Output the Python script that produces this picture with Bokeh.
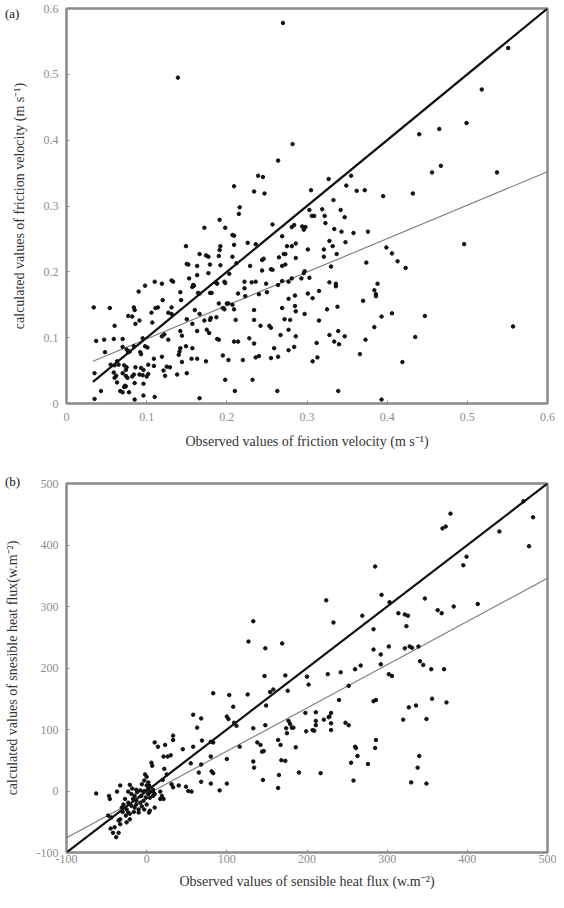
from bokeh.plotting import figure
from bokeh.layouts import column
from bokeh.models import Range1d, FixedTicker, Div
from bokeh.embed import file_html
from bokeh.resources import INLINE

# ---------------- data: panel (a) friction velocity ----------------
ua_pts = [
    (0.270,0.578),(0.139,0.495),(0.282,0.394),(0.264,0.369),(0.239,0.346),(0.245,0.344),(0.209,0.330),(0.234,0.322),(0.247,0.319),
    (0.551,0.540),(0.518,0.477),(0.499,0.426),(0.465,0.417),(0.440,0.409),(0.467,0.361),(0.456,0.351),(0.537,0.351),(0.327,0.341),
    (0.355,0.346),(0.349,0.331),(0.305,0.324),(0.362,0.323),(0.372,0.324),(0.395,0.315),(0.432,0.319),(0.333,0.309),
    (0.303,0.294),(0.319,0.295),(0.342,0.294),(0.306,0.285),(0.309,0.285),(0.322,0.285),(0.347,0.283),(0.323,0.274),(0.284,0.271),
    (0.294,0.269),(0.298,0.268),(0.296,0.264),(0.334,0.265),(0.343,0.261),(0.358,0.259),(0.376,0.261),(0.328,0.247),(0.348,0.245),
    (0.286,0.243),(0.332,0.239),(0.399,0.237),(0.496,0.242),(0.301,0.234),(0.321,0.234),(0.337,0.227),(0.406,0.228),(0.286,0.221),
    (0.321,0.223),(0.413,0.216),(0.374,0.214),(0.423,0.206),(0.330,0.208),(0.297,0.201),(0.296,0.198),(0.281,0.190),(0.293,0.190),
    (0.303,0.191),(0.328,0.184),(0.336,0.182),(0.336,0.178),(0.388,0.182),(0.384,0.172),(0.386,0.166),(0.386,0.163),(0.315,0.171),
    (0.285,0.164),(0.301,0.167),(0.307,0.160),(0.370,0.156),(0.338,0.147),(0.325,0.143),(0.286,0.140),(0.297,0.136),(0.406,0.137),
    (0.393,0.132),(0.447,0.133),(0.315,0.126),(0.384,0.116),(0.557,0.117),(0.328,0.104),(0.339,0.110),(0.347,0.102),(0.286,0.102),
    (0.435,0.101),(0.373,0.097),(0.334,0.094),(0.340,0.090),(0.312,0.092),(0.284,0.086),(0.366,0.075),(0.313,0.070),(0.307,0.064),
    (0.419,0.063),(0.339,0.019),(0.393,0.006),
    (0.216,0.298),(0.215,0.288),(0.191,0.279),(0.172,0.267),(0.198,0.267),(0.207,0.256),(0.209,0.255),(0.257,0.272),(0.281,0.268),
    (0.149,0.239),(0.192,0.239),(0.191,0.233),(0.209,0.241),(0.226,0.244),(0.236,0.242),(0.269,0.254),(0.275,0.239),(0.281,0.239),
    (0.166,0.227),(0.174,0.225),(0.177,0.223),(0.190,0.224),(0.207,0.223),(0.244,0.218),(0.246,0.220),(0.265,0.222),(0.271,0.227),
    (0.273,0.227),(0.150,0.212),(0.152,0.211),(0.163,0.209),(0.179,0.211),(0.192,0.210),(0.212,0.213),(0.229,0.209),(0.244,0.202),
    (0.255,0.204),(0.257,0.203),(0.269,0.209),(0.273,0.211),(0.163,0.195),(0.177,0.198),(0.203,0.197),(0.110,0.185),(0.119,0.182),
    (0.131,0.187),(0.133,0.185),(0.153,0.190),(0.158,0.180),(0.159,0.179),(0.157,0.177),(0.186,0.184),(0.188,0.182),(0.197,0.185),
    (0.198,0.183),(0.222,0.185),(0.222,0.175),(0.231,0.184),(0.236,0.185),(0.249,0.182),(0.264,0.180),(0.269,0.186),(0.277,0.185),
    (0.098,0.179),(0.090,0.170),(0.142,0.169),(0.164,0.168),(0.166,0.167),(0.179,0.168),(0.181,0.168),(0.214,0.167),(0.240,0.166),
    (0.277,0.159),(0.250,0.169),(0.143,0.157),(0.120,0.157),(0.223,0.163),(0.034,0.146),(0.054,0.145),(0.084,0.146),(0.085,0.142),
    (0.111,0.145),(0.114,0.146),(0.131,0.146),(0.190,0.152),(0.200,0.152),(0.202,0.152),(0.207,0.150),(0.209,0.143),(0.195,0.145),
    (0.197,0.143),(0.234,0.142),(0.269,0.145),(0.285,0.148),(0.106,0.138),(0.127,0.138),(0.131,0.136),(0.160,0.142),(0.166,0.136),
    (0.180,0.130),(0.187,0.131),(0.077,0.133),(0.082,0.132),(0.091,0.126),(0.086,0.121),(0.150,0.128),(0.172,0.126),(0.179,0.127),
    (0.211,0.127),(0.272,0.128),(0.279,0.127),(0.060,0.118),(0.107,0.123),(0.157,0.121),(0.234,0.127),(0.242,0.118),(0.253,0.118),
    (0.255,0.115),(0.163,0.110),(0.175,0.112),(0.178,0.107),(0.188,0.098),(0.190,0.097),(0.142,0.110),(0.144,0.103),(0.122,0.105),
    (0.119,0.102),(0.127,0.097),(0.209,0.094),(0.214,0.094),(0.228,0.099),(0.234,0.091),(0.267,0.104),(0.277,0.112),(0.037,0.095),
    (0.047,0.097),(0.059,0.098),(0.070,0.098),(0.095,0.099),(0.084,0.087),(0.098,0.087),(0.101,0.085),(0.070,0.086),(0.075,0.082),
    (0.077,0.078),(0.079,0.079),(0.092,0.078),(0.093,0.075),(0.048,0.078),(0.149,0.087),(0.142,0.084),(0.141,0.079),(0.140,0.074),
    (0.157,0.084),(0.259,0.084),(0.277,0.081),(0.236,0.070),(0.240,0.072),(0.255,0.069),(0.264,0.071),(0.109,0.068),(0.119,0.071),
    (0.156,0.068),(0.163,0.068),(0.174,0.064),(0.195,0.073),(0.202,0.066),(0.220,0.066),(0.063,0.064),(0.055,0.059),(0.060,0.058),
    (0.065,0.059),(0.072,0.058),(0.075,0.055),(0.074,0.051),(0.086,0.055),(0.093,0.054),(0.096,0.051),(0.102,0.059),(0.109,0.057),
    (0.125,0.056),(0.129,0.055),(0.144,0.063),(0.150,0.046),(0.121,0.050),(0.123,0.042),(0.138,0.044),(0.035,0.046),(0.059,0.047),
    (0.062,0.042),(0.060,0.039),(0.070,0.046),(0.074,0.042),(0.076,0.039),(0.082,0.041),(0.084,0.044),(0.091,0.044),(0.095,0.043),
    (0.100,0.041),(0.102,0.045),(0.063,0.032),(0.073,0.027),(0.072,0.025),(0.074,0.026),(0.085,0.031),(0.096,0.030),(0.198,0.036),
    (0.232,0.036),(0.043,0.019),(0.067,0.019),(0.070,0.017),(0.078,0.017),(0.096,0.012),(0.110,0.010),(0.085,0.006),(0.035,0.007),
    (0.166,0.008),(0.210,0.019),(0.263,0.019),
]
ua_obs = [p[0] for p in ua_pts]
ua_cal = [p[1] for p in ua_pts]
ua_ticks = [0, 0.1, 0.2, 0.3, 0.4, 0.5, 0.6]
ua_tick_labels = ["0", "0.1", "0.2", "0.3", "0.4", "0.5", "0.6"]
ua_one_x = [0.033, 0.6]
ua_one_y = [0.033, 0.6]
ua_fit_x = [0.033, 0.6]
ua_fit_y = [0.064, 0.352]

# ---------------- data: panel (b) sensible heat flux ----------------
h_pts = [
    (133,276),(127,243),(148,232),(169,240),
    (379,451),(369,427),(373,430),(470,471),(482,445),(440,422),(477,398),(285,365),(399,381),(395,367),(293,319),(224,310),
    (303,307),(347,313),(269,285),(233,274),(314,289),(322,287),(326,285),(363,294),(368,289),(383,300),(413,304),(283,263),
    (324,268),(283,230),(292,222),(302,235),(322,232),(328,235),(331,233),(339,235),
    (292,206),(260,198),(267,204),(242,193),(226,190),(200,186),(202,173),(302,190),(306,187),(341,211),(345,205),(355,198),
    (371,198),(252,171),(240,148),(283,146),(286,148),(327,136),(336,139),(356,150),(374,144),(198,127),(211,128),(230,127),
    (228,121),(227,120),(211,114),(211,107),(221,116),(230,110),(230,99),(199,97),(207,99),(209,98),(320,116),(349,117),
    (181,103),(248,111),(252,107),(286,83),(285,70),(260,72),(261,70),(263,57),(255,46),(276,44),(186,71),(340,57),(338,38),
    (190,30),(217,29),(258,17),(330,14),(349,12),
    (147,187),(173,188),(176,163),(154,161),(158,165),(126,157),(103,156),(83,159),(108,137),(149,139),(100,121),(102,117),
    (109,111),(112,106),(58,124),(68,118),(63,103),(148,107),(177,114),(179,109),(183,103),(174,102),(175,94),(164,83),
    (133,102),(116,72),(138,79),(142,75),(146,65),(144,64),(167,75),(168,50),(173,49),(133,48),(134,38),(165,26),(145,18),
    (164,5),(100,52),(69,82),(80,80),(83,79),(80,56),(33,83),(45,68),(58,72),(55,45),(68,43),(65,30),(81,32),(83,29),(68,15),
    (80,12),(91,1),(100,12),(10,79),(23,75),(21,56),(26,56),(30,58),(14,72),(6,46),(7,41),(33,90),(-2,27),(0,23),(22,36),
    (25,27),(-3,17),(31,11),(33,6),(40,9),(49,7),(52,0),(56,-1),(20,18),(19,-8),(17,-13),(21,-13),(10,-27),(3,-35),(-63,-4),
    (-47,-8),(-46,-13),(-37,-1),(-48,-40),(-44,-43),(-45,-61),(-40,-59),(-42,-68),(-35,-68),(-38,-75),(-35,-48),(-33,-54),
    (-33,-46),(-25,-30),(-23,-35),(-26,-40),(-27,-13),(-23,-19),(-29,-22),(-19,-5),(-15,-8),(-12,-2),(-8,1),(-4,-1),(-17,-13),
    (-13,-16),(-8,-19),(-4,-16),(-1,-11),(2,-5),(4,-2),(8,-1),(-19,-24),(-15,-27),(-10,-30),(-6,-25),(-16,-34),(-21,-37),
    (0,-22),(-3,-30),(-31,-27),(-30,-34),(-21,-46),(-25,-51),(4,-32),(-10,-35),(-13,-22),(-7,-8),(-2,0),(4,-11),(8,-8),(10,-5),
    (17,-1),(8,2),(-18,4),(-13,2),(-23,-1),(0,9),(2,4),(-21,10),(-33,9),(-6,11),(3,9),(2,14),
]
h_obs = [p[0] for p in h_pts]
h_cal = [p[1] for p in h_pts]
h_ticks = [-100, 0, 100, 200, 300, 400, 500]
h_tick_labels = ["-100", "0", "100", "200", "300", "400", "500"]
h_one_x = [-100, 500]
h_one_y = [-100, 500]
h_fit_x = [-100, 500]
h_fit_y = [-76, 346]

SERIF = "Liberation Serif"
FRAME = "#8a8a8a"


def style(p, ticks, labels, xlab, ylab, xl_stand, xa_stand, yl_stand, ya_stand):
    p.outline_line_color = FRAME
    p.outline_line_width = 2.5
    p.grid.visible = False
    p.background_fill_color = "white"
    p.border_fill_color = "white"
    for ax in (p.xaxis[0], p.yaxis[0]):
        ax.ticker = FixedTicker(ticks=ticks)
        ax.major_label_overrides = {t: s for t, s in zip(ticks, labels)}
        ax.axis_line_color = None
        ax.major_tick_line_color = FRAME
        ax.major_tick_in = 3
        ax.major_tick_out = 0
        ax.minor_tick_line_color = None
        ax.major_label_text_font = SERIF
        ax.major_label_text_font_size = "12px"
        ax.major_label_text_color = "#8c8c8c"
        ax.axis_label_text_font = SERIF
        ax.axis_label_text_font_size = "14px"
        ax.axis_label_text_font_style = "normal"
        ax.axis_label_text_color = "#333333"
    p.xaxis[0].axis_label = xlab
    p.yaxis[0].axis_label = ylab
    p.xaxis[0].major_label_standoff = xl_stand
    p.xaxis[0].axis_label_standoff = xa_stand
    p.yaxis[0].major_label_standoff = yl_stand
    p.yaxis[0].axis_label_standoff = ya_stand


p1 = figure(width=556, height=458, x_range=Range1d(0, 0.6), y_range=Range1d(0, 0.6),
            output_backend="svg", toolbar_location=None,
            min_border_left=64, min_border_right=7, min_border_top=8, min_border_bottom=55)
style(p1, ua_ticks, ua_tick_labels,
      "Observed values of friction velocity (m s\u207b\u00b9)",
      "calculated values of friction velocity (m s\u207b\u00b9)",
      9, 10, 8, 14)
p1.line(ua_fit_x, ua_fit_y, line_color="#7a7a7a", line_width=1.1)
p1.line(ua_one_x, ua_one_y, line_color="#111111", line_width=2.2)
p1.scatter(ua_obs, ua_cal, size=3.5, marker="circle", fill_color="#111111", line_color="#111111")

p2 = figure(width=556, height=434, x_range=Range1d(-100, 500), y_range=Range1d(-100, 500),
            output_backend="svg", toolbar_location=None,
            min_border_left=66, min_border_right=9, min_border_top=25, min_border_bottom=40)
style(p2, h_ticks, h_tick_labels,
      "Observed values of sensible heat flux (w.m\u207b\u00b2)",
      "calculated values of snesible heat flux(w.m\u207b\u00b2)",
      2, 8, 8, 14)
p2.line(h_fit_x, h_fit_y, line_color="#7a7a7a", line_width=1.1)
p2.line(h_one_x, h_one_y, line_color="#111111", line_width=2.2)
p2.scatter(h_obs, h_cal, size=3.5, marker="circle", fill_color="#111111", line_color="#111111")

lab_style = {"position": "absolute", "left": "5px", "font-family": "Liberation Serif",
             "font-size": "13px", "line-height": "16px", "color": "#111111", "z-index": "10"}
div_a = Div(text="(a)", margin=0, styles=dict(lab_style, top="6px"))
div_b = Div(text="(b)", margin=0, styles=dict(lab_style, top="474px"))

layout = column(p1, p2, div_a, div_b, spacing=0)
open("out.html", "w").write(file_html(layout, INLINE))
